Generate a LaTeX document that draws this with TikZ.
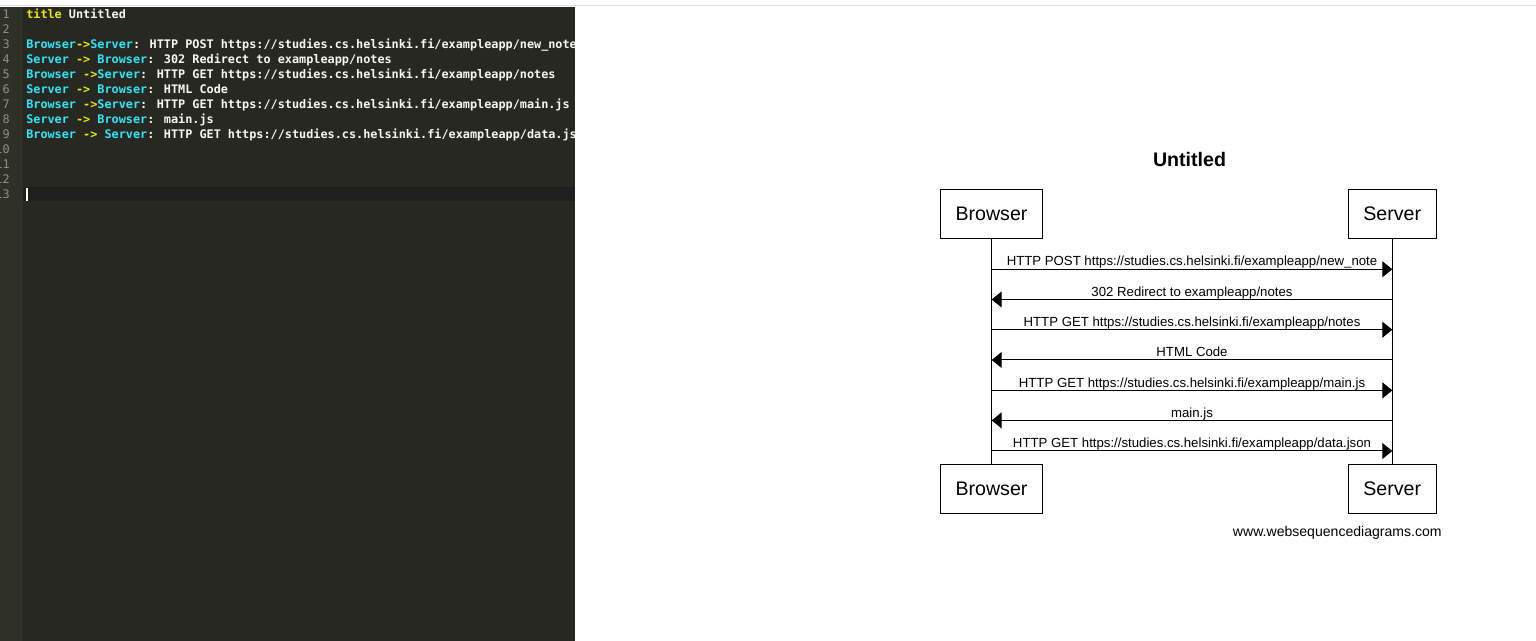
\documentclass[tikz,border=0pt]{standalone}
\usepackage{fontspec}
\setmainfont{Liberation Sans}
\newfontfamily\codefont{DejaVu Sans Mono}
\usetikzlibrary{arrows.meta}

\definecolor{editorbg}{HTML}{272822}
\definecolor{gutterbg}{HTML}{2F3129}
\definecolor{linehl}{HTML}{1F201C}
\definecolor{lnum}{HTML}{8F908A}
\definecolor{codewhite}{HTML}{F8F8F2}
\definecolor{codeyellow}{HTML}{EAEA10}
\definecolor{codecyan}{HTML}{30E6F8}
\definecolor{topline}{HTML}{DDDDDD}

\newcommand{\kwd}[1]{\textcolor{codeyellow}{#1}}
\newcommand{\actor}[1]{\textcolor{codecyan}{#1}}

\tikzset{
  codeline/.style={anchor=base west, inner sep=0pt, text=codewhite, font=\codefont\bfseries\fontsize{8.87pt}{10pt}\selectfont},
  lineno/.style={anchor=base east, inner sep=0pt, text=lnum, font=\codefont\fontsize{8.87pt}{10pt}\selectfont},
  actorbox/.style={draw, line width=0.75pt, minimum height=36.75pt, inner xsep=11.25pt, inner ysep=0pt, font=\fontsize{14.7pt}{17pt}\selectfont},
  lifeline/.style={line width=0.75pt},
  msg/.style={line width=0.75pt, -{Triangle[length=7.5pt,width=12pt]}},
  msglabel/.style={midway, anchor=base, inner sep=0pt, yshift=2.5pt, font=\fontsize{9.9pt}{12pt}\selectfont},
}

\begin{document}
\begin{tikzpicture}[x=0.75pt,y=0.75pt,yscale=-1,xscale=1]
\useasboundingbox (0,0) rectangle (1536,641);
\fill[white] (0,0) rectangle (1536,641);

%Shape: Editor panel
\draw[topline, line width=0.75pt] (0,6) -- (1536,6);
\fill[editorbg] (0,7) rectangle (575,641);
\fill[gutterbg] (0,7) rectangle (23,641);
\fill[linehl] (23,187) rectangle (575,201.5);
\fill[white] (26,188) rectangle (27.6,201);

% Line numbers
\node[lineno] (n1) at (10,19) {1};
\node[lineno] (n2) at (10,34) {2};
\node[lineno] (n3) at (10,49) {3};
\node[lineno] (n4) at (10,64) {4};
\node[lineno] (n5) at (10,79) {5};
\node[lineno] (n6) at (10,94) {6};
\node[lineno] (n7) at (10,109) {7};
\node[lineno] (n8) at (10,124) {8};
\node[lineno] (n9) at (10,139) {9};
\node[lineno] (n10) at (10,154) {10};
\node[lineno] (n11) at (10,169) {11};
\node[lineno] (n12) at (10,184) {12};
\node[lineno] (n13) at (10,199) {13};

% Source text
\begin{scope}
\clip (23,7) rectangle (575,641);
\node[codeline] (c1) at (26,19) {\kwd{title} Untitled};
\node[codeline] (c3) at (26,49) {\actor{Browser}\kwd{->}\actor{Server}: HTTP POST https://studies.cs.helsinki.fi/exampleapp/new\_note};
\node[codeline] (c4) at (26,64) {\actor{Server} \kwd{->} \actor{Browser}: 302 Redirect to exampleapp/notes};
\node[codeline] (c5) at (26,79) {\actor{Browser} \kwd{->}\actor{Server}: HTTP GET https://studies.cs.helsinki.fi/exampleapp/notes};
\node[codeline] (c6) at (26,94) {\actor{Server} \kwd{->} \actor{Browser}: HTML Code};
\node[codeline] (c7) at (26,109) {\actor{Browser} \kwd{->}\actor{Server}: HTTP GET https://studies.cs.helsinki.fi/exampleapp/main.js};
\node[codeline] (c8) at (26,124) {\actor{Server} \kwd{->} \actor{Browser}: main.js};
\node[codeline] (c9) at (26,139) {\actor{Browser} \kwd{->} \actor{Server}: HTTP GET https://studies.cs.helsinki.fi/exampleapp/data.json};
\end{scope}

% Text Node
\node[anchor=base, inner sep=0pt, font=\bfseries\fontsize{14.7pt}{17pt}\selectfont] (title) at (1189.5,166.3) {Untitled};

%Shape: Actor boxes
\node[actorbox] (bTop) at (991.5,213.8) {Browser};
\node[actorbox] (sTop) at (1392.2,213.8) {Server};
\node[actorbox] (bBot) at (991.5,488.7) {Browser};
\node[actorbox] (sBot) at (1392.2,488.7) {Server};

\draw[lifeline] (bTop.south) -- (bBot.north);
\draw[lifeline] (sTop.south) -- (sBot.north);

% Message points
\coordinate (b1) at (991.7,269.3); \coordinate (s1) at (1392.3,269.3);
\coordinate (b2) at (991.7,299.5); \coordinate (s2) at (1392.3,299.5);
\coordinate (b3) at (991.7,329.7); \coordinate (s3) at (1392.3,329.7);
\coordinate (b4) at (991.7,360); \coordinate (s4) at (1392.3,360);
\coordinate (b5) at (991.7,390.4); \coordinate (s5) at (1392.3,390.4);
\coordinate (b6) at (991.7,420.4); \coordinate (s6) at (1392.3,420.4);
\coordinate (b7) at (991.7,451); \coordinate (s7) at (1392.3,451);

\draw[msg] (b1) -- (s1) node[msglabel] {HTTP POST https://studies.cs.helsinki.fi/exampleapp/new\_note};
\draw[msg] (s2) -- (b2) node[msglabel] {302 Redirect to exampleapp/notes};
\draw[msg] (b3) -- (s3) node[msglabel] {HTTP GET https://studies.cs.helsinki.fi/exampleapp/notes};
\draw[msg] (s4) -- (b4) node[msglabel] {HTML Code};
\draw[msg] (b5) -- (s5) node[msglabel] {HTTP GET https://studies.cs.helsinki.fi/exampleapp/main.js};
\draw[msg] (s6) -- (b6) node[msglabel] {main.js};
\draw[msg] (b7) -- (s7) node[msglabel] {HTTP GET https://studies.cs.helsinki.fi/exampleapp/data.json};

% Text Node
\node[anchor=base east, inner sep=0pt, font=\fontsize{10.55pt}{12pt}\selectfont] (credit) at (1442,536.7) {www.websequencediagrams.com};

\end{tikzpicture}
\end{document}
